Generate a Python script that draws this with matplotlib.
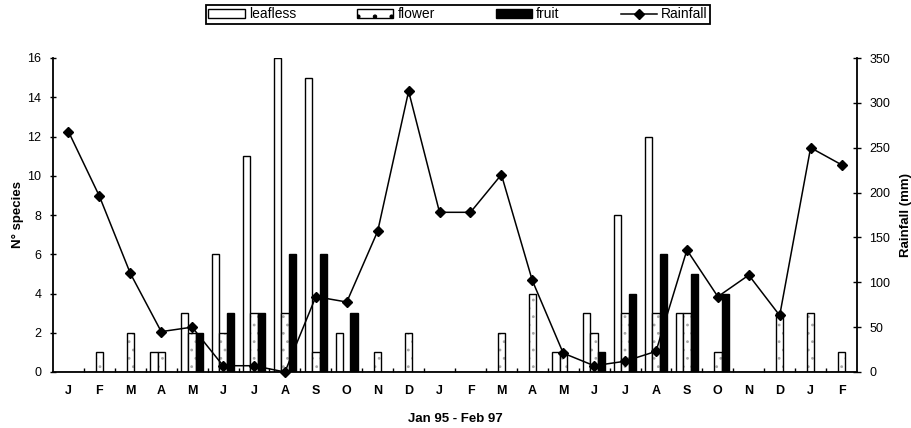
import matplotlib
matplotlib.use('Agg')
import matplotlib.pyplot as plt
import numpy as np
from matplotlib.patches import Patch
from matplotlib.lines import Line2D

plt.rcParams['font.family'] = ['Liberation Sans', 'DejaVu Sans']
plt.rcParams['hatch.linewidth'] = 0.8

months = ['J', 'F', 'M', 'A', 'M', 'J', 'J', 'A', 'S', 'O', 'N', 'D',
          'J', 'F', 'M', 'A', 'M', 'J', 'J', 'A', 'S', 'O', 'N', 'D',
          'J', 'F']
leafless = [0, 0, 0, 1, 3, 6, 11, 16, 15, 2, 0, 0,
            0, 0, 0, 0, 1, 3, 8, 12, 3, 0, 0, 0,
            0, 0]
flower = [0, 1, 2, 1, 2, 2, 3, 3, 1, 0, 1, 2,
          0, 0, 2, 4, 1, 2, 3, 3, 3, 1, 0, 3,
          3, 1]
fruit = [0, 0, 0, 0, 2, 3, 3, 6, 6, 3, 0, 0,
         0, 0, 0, 0, 0, 1, 4, 6, 5, 4, 0, 0,
         0, 0]
rainfall = [268, 196, 110, 45, 50, 7, 7, 0, 84, 78, 157, 313,
            178, 178, 220, 102, 21, 7, 12, 23, 136, 84, 108, 63,
            250, 231]
left_ticks = [0, 2, 4, 6, 8, 10, 12, 14, 16]
right_ticks = [0, 50, 100, 150, 200, 250, 300, 350]

W, H = 912, 428
fig = plt.figure(figsize=(W / 100, H / 100), dpi=100)
ax = fig.add_axes([53 / W, 1 - 372 / H, (857 - 53) / W, (372 - 58) / H])
ax2 = ax.twinx()

x = np.arange(len(months))
bw = 0.24
lw = 1.0

ax.bar(x - bw, leafless, bw, facecolor='white', edgecolor='black', linewidth=lw, zorder=2)
ax.bar(x, flower, bw, facecolor='white', edgecolor='#a8a8a8', linewidth=0, hatch='..', zorder=2)
ax.bar(x, flower, bw, fill=False, edgecolor='black', linewidth=lw, zorder=3)
ax.bar(x + bw, fruit, bw, facecolor='black', edgecolor='black', linewidth=lw, zorder=2)

ax2.plot(x, rainfall, color='black', linewidth=1.1, marker='D', markersize=5.5,
         markerfacecolor='black', markeredgecolor='black', clip_on=False, zorder=4)

ax.set_xlim(-0.5, len(months) - 0.5)
ax.set_ylim(0, 16)
ax2.set_ylim(0, 350)

ax.set_yticks(left_ticks)
ax.set_yticklabels([str(v) for v in left_ticks], fontsize=9)
ax2.set_yticks(right_ticks)
ax2.set_yticklabels([str(v) for v in right_ticks], fontsize=9)

ax.set_xticks(x)
ax.set_xticklabels(months, fontsize=9, fontweight='bold')
ax.set_xticks(x[:-1] + 0.5, minor=True)
ax.tick_params(axis='x', which='major', length=0, pad=9)
ax.tick_params(axis='x', which='minor', direction='in', length=3, width=1)
ax.tick_params(axis='y', direction='inout', length=5, width=1, pad=6)
ax2.tick_params(axis='y', direction='inout', length=6, width=1, pad=6)

for a in (ax, ax2):
    a.spines['top'].set_visible(False)
    for s in a.spines.values():
        s.set_linewidth(1.3)
ax.spines['right'].set_visible(False)
ax2.spines['left'].set_visible(False)
ax2.spines['bottom'].set_visible(False)

ax.set_ylabel('N° species', fontsize=9.5, fontweight='bold', labelpad=2)
ax2.set_ylabel('Rainfall (mm)', fontsize=9.5, fontweight='bold', labelpad=7)
ax.set_xlabel('Jan 95 - Feb 97', fontsize=9.5, fontweight='bold', labelpad=12)

handles = [
    Patch(facecolor='white', edgecolor='black', linewidth=1),
    Patch(facecolor='white', edgecolor='black', linewidth=1, hatch='.'),
    Patch(facecolor='black', edgecolor='black', linewidth=1),
    Line2D([0], [0], color='black', linewidth=1.1, marker='D', markersize=5,
           markerfacecolor='black'),
]
labels = ['leafless', 'flower', 'fruit', 'Rainfall']
leg = fig.legend(handles, labels, loc='center', bbox_to_anchor=(458 / W, 1 - 14.5 / H),
                 ncol=4, frameon=True, fancybox=False, edgecolor='black', framealpha=1,
                 fontsize=10, borderpad=0.15, handlelength=2.6, handleheight=0.55,
                 handletextpad=0.3, columnspacing=4.4, borderaxespad=0)
leg.get_frame().set_linewidth(1.3)

fig.savefig('out.png', dpi=100)
